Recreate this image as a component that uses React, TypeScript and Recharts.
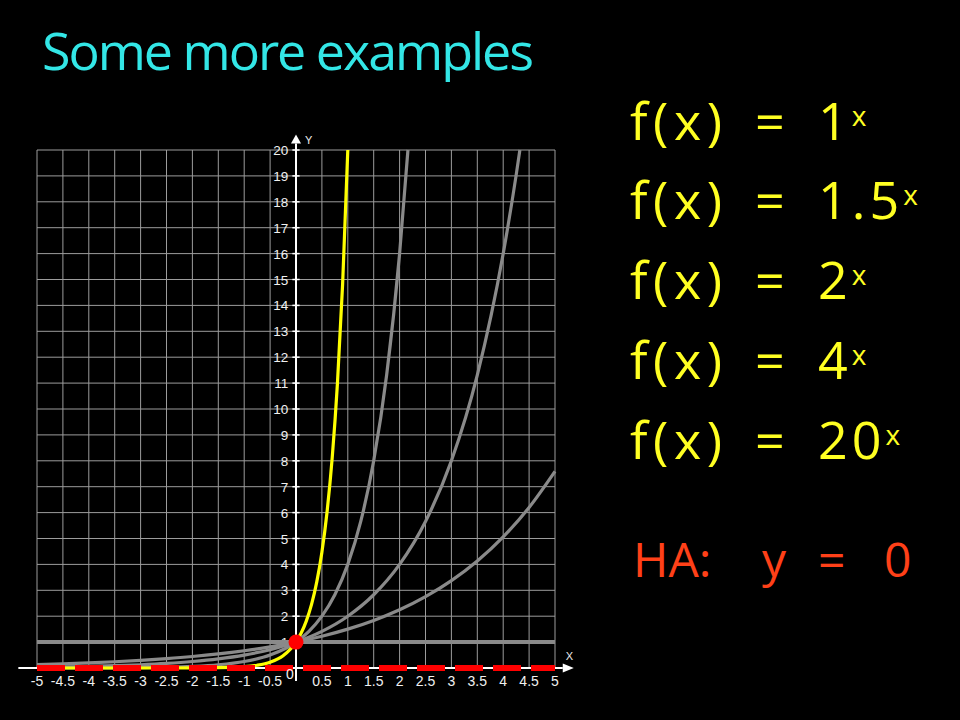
import React from "react";
import { LineChart, Line, XAxis, YAxis, CartesianGrid, ReferenceLine, ReferenceDot } from "recharts";

// axis ticks
const xTicks = [-5, -4.5, -4, -3.5, -3, -2.5, -2, -1.5, -1, -0.5, 0, 0.5, 1, 1.5, 2, 2.5, 3, 3.5, 4, 4.5, 5];
const yTicks = [0, 1, 2, 3, 4, 5, 6, 7, 8, 9, 10, 11, 12, 13, 14, 15, 16, 17, 18, 19, 20];
const yLabels = [1, 2, 3, 4, 5, 6, 7, 8, 9, 10, 11, 12, 13, 14, 15, 16, 17, 18, 19, 20];

// f(x) = 1^x
const base1X = [-5, 5];
const base1Y = [1, 1];

// f(x) = 1.5^x
const base15X = [-5, -4.5, -4, -3.5, -3, -2.5, -2, -1.5, -1, -0.5, 0, 0.5, 1, 1.5, 2, 2.5, 3, 3.5, 4, 4.5, 5];
const base15Y = [0.132, 0.161, 0.198, 0.242, 0.296, 0.363, 0.444, 0.544, 0.667, 0.816, 1, 1.225, 1.5, 1.837, 2.25, 2.756, 3.375, 4.134, 5.063, 6.2, 7.594];

// f(x) = 2^x
const base2X = [-5, -4.5, -4, -3.5, -3, -2.5, -2, -1.5, -1, -0.5, 0, 0.5, 1, 1.5, 2, 2.5, 3, 3.5, 4, 4.25, 4.322];
const base2Y = [0.031, 0.044, 0.063, 0.088, 0.125, 0.177, 0.25, 0.354, 0.5, 0.707, 1, 1.414, 2, 2.828, 4, 5.657, 8, 11.31, 16, 19.03, 20];

// f(x) = 4^x
const base4X = [-5, -4.5, -4, -3.5, -3, -2.5, -2, -1.5, -1, -0.5, 0, 0.25, 0.5, 0.75, 1, 1.25, 1.5, 1.75, 2, 2.161];
const base4Y = [0.001, 0.002, 0.004, 0.008, 0.016, 0.031, 0.063, 0.125, 0.25, 0.5, 1, 1.414, 2, 2.828, 4, 5.657, 8, 11.31, 16, 20];

// f(x) = 20^x
const base20X = [-5, -4, -3, -2, -1.5, -1, -0.75, -0.5, -0.25, 0, 0.1, 0.2, 0.3, 0.4, 0.5, 0.6, 0.7, 0.8, 0.9, 1];
const base20Y = [0, 0, 0, 0.003, 0.011, 0.05, 0.106, 0.224, 0.473, 1, 1.349, 1.821, 2.456, 3.314, 4.472, 6.034, 8.141, 10.99, 14.82, 20];

const equations = ["1", "1.5", "2", "4", "20"];

const toPoints = (xs: number[], ys: number[]) => xs.map((x, i) => ({ x, y: ys[i] }));

const GRAY = "#8a8a8a";
const HAND = "'Open Sans', sans-serif";
const AXIS_FONT = "'Liberation Sans', Arial, sans-serif";

const XTick = (props: any) => {
  const { x, y, payload } = props;
  const zero = payload.value === 0;
  return (
    <text
      x={zero ? x - 6 : x}
      y={zero ? y + 3 : y + 10}
      textAnchor="middle"
      fill="#f0f0f0"
      fontSize={14}
      fontFamily={AXIS_FONT}
    >
      {String(payload.value)}
    </text>
  );
};

const NoTick = () => <g />;

const YTickLabel = (props: any) => {
  const { viewBox, value } = props;
  const x = viewBox ? viewBox.x : 0;
  const y = viewBox ? viewBox.y : 0;
  return (
    <text x={x - 4} y={y + 5} textAnchor="end" fill="#f0f0f0" fontSize={13.5} fontFamily={AXIS_FONT}>
      {value}
    </text>
  );
};

const ArrowUp = (props: any) => {
  const { cx, cy } = props;
  return (
    <g>
      <polygon points={`${cx - 5},${cy} ${cx + 5},${cy} ${cx},${cy - 9}`} fill="#fff" />
      <text x={cx + 9} y={cy} fill="#ececec" fontSize={11} fontFamily={AXIS_FONT}>Y</text>
    </g>
  );
};

const ArrowRight = (props: any) => {
  const { cx, cy } = props;
  return (
    <g>
      <polygon points={`${cx},${cy - 4.5} ${cx},${cy + 4.5} ${cx + 11},${cy}`} fill="#fff" />
      <text x={cx + 3} y={cy - 8} fill="#ececec" fontSize={11} fontFamily={AXIS_FONT}>X</text>
    </g>
  );
};

export default function App() {
  const rowBase = [140, 219, 299, 379, 459];
  return (
    <div style={{ position: "absolute", left: 0, top: 0, width: 960, height: 720, background: "#000", overflow: "hidden" }}>
      <LineChart width={960} height={720} margin={{ top: 150, right: 405, bottom: 22, left: 37 }}>
        <CartesianGrid stroke="#9c9c9c" strokeWidth={1} />
        <XAxis
          type="number"
          dataKey="x"
          domain={[-5, 5]}
          ticks={xTicks}
          interval={0}
          axisLine={false}
          tickLine={false}
          tick={<XTick />}
          height={30}
        />
        <YAxis type="number" dataKey="y" domain={[0, 20]} ticks={yTicks} interval={0} width={0} tick={<NoTick />} axisLine={false} tickLine={false} />

        <ReferenceLine segment={[{ x: -5.36, y: 0 }, { x: 5.15, y: 0 }]} stroke="#fff" strokeWidth={2} ifOverflow="visible" />
        <ReferenceDot x={5.15} y={0} shape={ArrowRight} ifOverflow="visible" />
        <ReferenceLine segment={[{ x: 0, y: -0.5 }, { x: 0, y: 20.25 }]} stroke="#fff" strokeWidth={2} ifOverflow="visible" />
        <ReferenceDot x={0} y={20.25} shape={ArrowUp} ifOverflow="visible" />
        {yLabels.map((v) => (
          <ReferenceLine
            key={v}
            segment={[{ x: -0.07, y: v }, { x: 0.07, y: v }]}
            stroke="#fff"
            strokeWidth={1.5}
            label={<YTickLabel value={String(v)} />}
          />
        ))}

        <Line data={toPoints(base1X, base1Y)} dataKey="y" type="linear" stroke={GRAY} strokeWidth={4} dot={false} isAnimationActive={false} />
        <Line data={toPoints(base15X, base15Y)} dataKey="y" type="monotone" stroke={GRAY} strokeWidth={3.2} dot={false} isAnimationActive={false} />
        <Line data={toPoints(base2X, base2Y)} dataKey="y" type="monotone" stroke={GRAY} strokeWidth={3.2} dot={false} isAnimationActive={false} />
        <Line data={toPoints(base4X, base4Y)} dataKey="y" type="monotone" stroke={GRAY} strokeWidth={3.2} dot={false} isAnimationActive={false} />
        <Line data={toPoints(base20X, base20Y)} dataKey="y" type="monotone" stroke="#ffff00" strokeWidth={3.2} dot={false} isAnimationActive={false} />

        <ReferenceLine y={0} stroke="#ff0000" strokeWidth={6} strokeDasharray="28 10" ifOverflow="visible" />
        <ReferenceDot x={0} y={1} r={7.5} fill="#ff0000" stroke="none" />
      </LineChart>

      <svg width={960} height={720} style={{ position: "absolute", left: 0, top: 0, pointerEvents: "none" }}>
        <text x={42} y={70} fill="#33e6e6" fontSize={52} fontFamily={HAND} textLength={492} lengthAdjust="spacing">
          Some more examples
        </text>
        {equations.map((b, i) => (
          <g key={b} fill="#ffff22" fontFamily={HAND}>
            <text x={630} y={rowBase[i]} fontSize={52} textLength={92} lengthAdjust="spacing">f(x)</text>
            <text x={755} y={rowBase[i]} fontSize={52}>=</text>
            <text x={818} y={rowBase[i]} fontSize={52} letterSpacing={4}>
              {b}
              <tspan fontSize={28} dy={-14}>x</tspan>
            </text>
          </g>
        ))}
        <g fill="#ff4018" fontFamily={HAND} fontSize={48}>
          <text x={633} y={577}>HA:</text>
          <text x={762} y={577}>y</text>
          <text x={818} y={577}>=</text>
          <text x={884} y={577}>0</text>
        </g>
      </svg>
    </div>
  );
}
